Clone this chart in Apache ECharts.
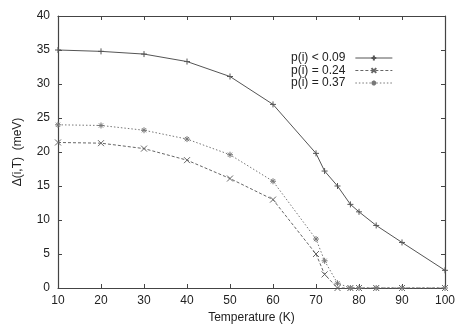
<!DOCTYPE html>
<html><head><meta charset="utf-8">
<script src="https://cdn.jsdelivr.net/npm/echarts@6/dist/echarts.min.js"></script>
<style>html,body{margin:0;padding:0;background:#fff}#c{width:467px;height:327px}</style>
</head><body><div id="c"></div>
<script>
const temps = [10, 20, 30, 40, 50, 60, 70, 72, 75, 78, 80, 84, 90, 100];
const gapLow = [35.0, 34.8, 34.4, 33.3, 31.1, 27.0, 19.8, 17.2, 15.0, 12.3, 11.2, 9.2, 6.7, 2.6];
const gapMid = [21.4, 21.3, 20.5, 18.8, 16.1, 13.0, 5.0, 2.0, 0.0, 0.0, 0.0, 0.0, 0.0, 0.0];
const gapHigh = [24.0, 23.9, 23.2, 21.9, 19.6, 15.7, 7.2, 4.0, 0.7, 0.0, 0.0, 0.0, 0.0, 0.0];
const names = ['p(i) < 0.09', 'p(i) = 0.24', 'p(i) = 0.37'];
const xTicks = [10, 20, 30, 40, 50, 60, 70, 80, 90, 100];
const yTicks = [0, 5, 10, 15, 20, 25, 30, 35, 40];

const font = 'Liberation Sans';
const plus = 'path://M0,-1L0,1M-1,0L1,0';
const cross = 'path://M-1,-1L1,1M-1,1L1,-1';
const star = 'path://M0,-1L0,1M-1,0L1,0M-0.7,-0.7L0.7,0.7M-0.7,0.7L0.7,-0.7';
const zip = a => temps.map((t, i) => [t, a[i]]);
function mk(name, data, sym, type, col) {
  return {
    name, type: 'line', data: zip(data), symbol: sym, symbolSize: 6,
    showSymbol: true,
    lineStyle: { color: col, width: 1, type },
    itemStyle: { color: col, borderColor: col, borderWidth: 1 },
    emphasis: { disabled: true }
  };
}
const axisCommon = {
  type: 'value', axisLine: { show: true, onZero: false, lineStyle: { color: '#444', width: 1.2 } },
  axisTick: { show: true, inside: true, length: 4, lineStyle: { color: '#444' } },
  splitLine: { show: false }
};
const chart = echarts.init(document.getElementById('c'), null, { renderer: 'canvas' });
chart.setOption({
  animation: false,
  backgroundColor: '#fff',
  grid: { left: 58, right: 22, top: 16, bottom: 39, outerBoundsMode: 'none', containLabel: false },
  xAxis: [
    Object.assign({}, axisCommon, { min: 10, max: 100, interval: 10, position: 'bottom',
      name: 'Temperature (K)', nameLocation: 'middle', nameGap: 24,
      nameTextStyle: { fontFamily: font, fontSize: 12, color: '#222' },
      axisLabel: { fontFamily: font, fontSize: 12, color: '#222', margin: 7,
        formatter: v => xTicks.includes(v) ? String(v) : '' } }),
    Object.assign({}, axisCommon, { min: 10, max: 100, interval: 10, position: 'top', axisLabel: { show: false } })
  ],
  yAxis: [
    Object.assign({}, axisCommon, { min: 0, max: 40, interval: 5, position: 'left',
      name: 'Δ(i,T)  (meV)', nameLocation: 'middle', nameGap: 34, nameRotate: 90,
      nameTextStyle: { fontFamily: font, fontSize: 12, color: '#222' },
      axisLabel: { fontFamily: font, fontSize: 12, color: '#222', margin: 8,
        formatter: v => yTicks.includes(v) ? String(v) : '' } }),
    Object.assign({}, axisCommon, { min: 0, max: 40, interval: 5, position: 'right', axisLabel: { show: false } })
  ],
  legend: {
    data: names, orient: 'vertical', left: 291, top: 52, align: 'right', padding: 0,
    itemWidth: 37, itemHeight: 6, itemGap: 0.5,
    lineStyle: { width: 1 },
    textStyle: { fontFamily: font, fontSize: 12, lineHeight: 11, color: '#222', padding: [0, 5, 0, 0] },
    inactiveColor: '#555'
  },
  series: [
    mk(names[0], gapLow, plus, 'solid', '#555'),
    mk(names[1], gapMid, cross, [3, 2], '#666'),
    mk(names[2], gapHigh, star, [1.5, 2], '#777')
  ]
});
</script></body></html>
